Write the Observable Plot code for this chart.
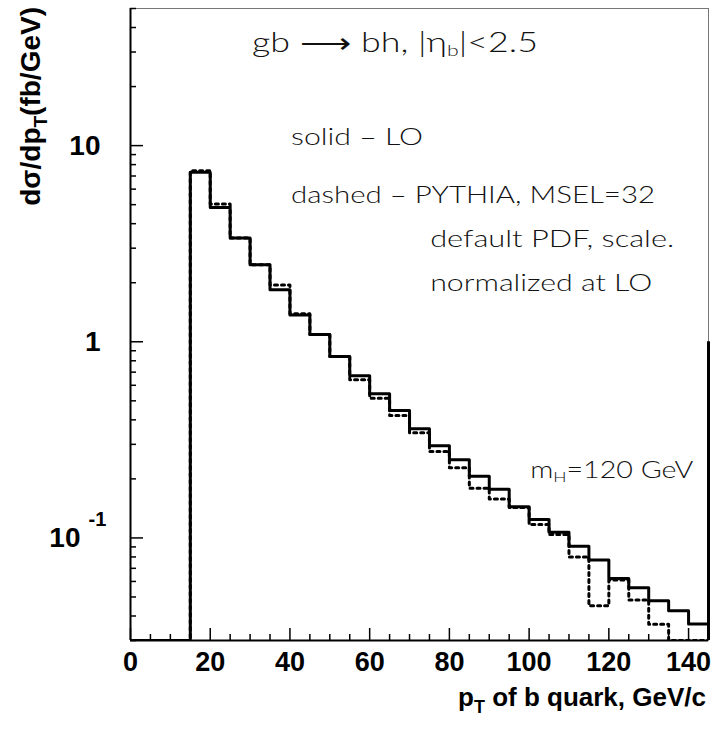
<!DOCTYPE html>
<html>
<head>
<meta charset="utf-8">
<script src="https://cdn.jsdelivr.net/npm/d3@7"></script>
<script src="https://cdn.jsdelivr.net/npm/@observablehq/plot@0.6"></script>
<style>
  body { margin: 0; background: #fff; }
</style>
</head>
<body>
<div id="chart"></div>
<script>
// ---- data ----
const binStart = [0,5,10,15,20,25,30,35,40,45,50,55,60,65,70,75,80,85,90,95,100,105,110,115,120,125,130,135,140];
const histEnd = 145;
// solid – LO
const lo = [0.03,0.03,0.03,7.31,4.84,3.38,2.47,1.84,1.37,1.09,0.841,0.671,0.543,0.446,0.36,0.295,0.25,0.206,0.177,0.144,0.124,0.107,0.0908,0.0772,0.0622,0.0558,0.0479,0.0426,0.0364];
// dashed – PYTHIA
const pythia = [0.03,0.03,0.03,7.45,5.04,3.38,2.47,1.95,1.39,1.09,0.841,0.64,0.516,0.421,0.344,0.276,0.228,0.179,0.158,0.143,0.117,0.104,0.080,0.0451,0.061,0.0483,0.0363,0.03,0.03];
// edge line drawn at the end of the histogram
const edgeLine = [{x: 145, y1: 0.03, y2: 1}];

const xMajor = [0,20,40,60,80,100,120,140];
const xMinor = [5,10,15,25,30,35,45,50,55,65,70,75,85,90,95,105,110,115,125,130,135,145];
const yMajor = [0.1,1,10];
const yMinor = [0.03,0.04,0.05,0.06,0.07,0.08,0.09,0.2,0.3,0.4,0.5,0.6,0.7,0.8,0.9,2,3,4,5,6,7,8,9,20,30,40,50];
const yTickText = [{v: 10, t: "10"}, {v: 1, t: "1"}];
const yTickExp = [{v: 0.1, base: "10", exp: "-1"}];

const xTitle = [["p", false], ["T", true], [" of b quark, GeV/c", false]];
const yTitle = [["dσ/dp", false], ["T", true], ["(fb/GeV)", false]];

const notes = [
  {x: 30.6, y: 30,  size: 27, width: 286, parts: [["gb ⟶ bh, |η", false], ["b", true], ["|<2.5", false]]},
  {x: 40.4, y: 10,  size: 23, width: 132, parts: [["solid – LO", false]]},
  {x: 40.4, y: 5.05, size: 23, width: 364, parts: [["dashed – PYTHIA, MSEL=32", false]]},
  {x: 75.3, y: 3.02, size: 23, width: 244, parts: [["default PDF, scale.", false]]},
  {x: 75.3, y: 1.8, size: 23, width: 222, parts: [["normalized at LO", false]]},
  {x: 100.4, y: 0.2, size: 23, width: 163, parts: [["m", false], ["H", true], ["=120 GeV", false]]}
];

// ---- build step tables ----
const steps = vals => binStart.map((x, i) => ({x, y: vals[i]})).concat([{x: histEnd, y: vals[vals.length - 1]}]);
const loSteps = steps(lo);
const pySteps = steps(pythia);

const boldFont = "'Liberation Sans', Arial, Helvetica, sans-serif";
const thinFont = "'Lato Light', Lato, 'Open Sans', 'DejaVu Sans', sans-serif";

const W = 711, H = 732, mL = 130, mR = 3, mT = 8, mB = 92;
const frameW = W - mL - mR, frameH = H - mT - mB;
const xDom = [0, 145], yDom = [0.03, 50];
// tick lengths (pixels) expressed in data units so the rules go through the scales
const xTickEnd = px => yDom[0] * Math.pow(yDom[1] / yDom[0], px / frameH);
const yTickEnd = px => xDom[0] + (xDom[1] - xDom[0]) * px / frameW;
const tickColor = "#000";

const plot = Plot.plot({
  width: W,
  height: H,
  marginLeft: mL,
  marginRight: mR,
  marginTop: mT,
  marginBottom: mB,
  style: {background: "#fff", fontFamily: boldFont, overflow: "visible"},
  x: {domain: xDom, axis: null},
  y: {type: "log", domain: yDom, axis: null},
  marks: [
    Plot.frame({stroke: "#777", strokeWidth: 1}),
    // inward ticks
    Plot.ruleX(xMajor, {x: d => d, y1: yDom[0], y2: xTickEnd(12), stroke: tickColor, strokeWidth: 1.5}),
    Plot.ruleX(xMinor, {x: d => d, y1: yDom[0], y2: xTickEnd(6), stroke: tickColor, strokeWidth: 1.5}),
    Plot.ruleY(yMajor, {y: d => d, x1: xDom[0], x2: yTickEnd(13), stroke: tickColor, strokeWidth: 1.5}),
    Plot.ruleY(yMinor, {y: d => d, x1: xDom[0], x2: yTickEnd(6), stroke: tickColor, strokeWidth: 1.5}),
    // tick labels
    Plot.text(xMajor, {x: d => d, text: d => String(d), frameAnchor: "bottom", lineAnchor: "top", dy: 11, fontSize: 27, fontWeight: "bold", fill: "#000"}),
    Plot.text(yTickText, {y: "v", text: "t", frameAnchor: "left", textAnchor: "end", dx: -30, fontSize: 28, fontWeight: "bold", fill: "#000"}),
    Plot.text(yTickExp, {y: "v", text: "base", frameAnchor: "left", textAnchor: "end", dx: -50, fontSize: 28, fontWeight: "bold", fill: "#000"}),
    Plot.text(yTickExp, {y: "v", text: "exp", frameAnchor: "left", textAnchor: "start", dx: -42, dy: -18, fontSize: 20, fontWeight: "bold", fill: "#000"}),
    // axis lines
    Plot.ruleY([yDom[0]], {stroke: "#000", strokeWidth: 2}),
    Plot.ruleX([xDom[0]], {stroke: "#000", strokeWidth: 2}),
    // histograms
    Plot.line(pySteps, {x: "x", y: "y", curve: "step-after", stroke: "#000", strokeWidth: 3, strokeDasharray: "3,4", clip: true}),
    Plot.line(loSteps, {x: "x", y: "y", curve: "step-after", stroke: "#000", strokeWidth: 3, clip: true}),
    Plot.ruleX(edgeLine, {x: "x", y1: "y1", y2: "y2", stroke: "#000", strokeWidth: 3})
  ]
});

document.getElementById("chart").appendChild(plot);

// ---- titles and annotations (placed through Plot's scales) ----
const svg = d3.select(plot);
const sx = plot.scale("x"), sy = plot.scale("y");

function addRich(g, parts, subSize, subShift) {
  parts.forEach(([t, sub], i) => {
    const prevSub = i > 0 && parts[i - 1][1];
    const ts = g.append("tspan").text(t);
    if (sub) ts.attr("dy", subShift).attr("font-size", subSize);
    else if (prevSub) ts.attr("dy", -subShift);
  });
}

// x title
const xt = svg.append("text")
  .attr("x", 706).attr("y", 706)
  .attr("text-anchor", "end")
  .attr("font-family", boldFont).attr("font-weight", "bold").attr("font-size", 26)
  .attr("fill", "#000");
addRich(xt, xTitle, 18, 7);

// y title
const yt = svg.append("text")
  .attr("transform", "translate(40,7) rotate(-90)")
  .attr("text-anchor", "end")
  .attr("font-family", boldFont).attr("font-weight", "bold").attr("font-size", 28)
  .attr("fill", "#000");
addRich(yt, yTitle, 19, 7);

// annotations
notes.forEach(n => {
  const t = svg.append("text")
    .attr("x", sx.apply(n.x)).attr("y", sy.apply(n.y))
    .attr("text-anchor", "start")
    .attr("font-family", thinFont).attr("font-weight", 300).attr("font-size", n.size)
    .attr("fill", "#111")
    .attr("textLength", n.width).attr("lengthAdjust", "spacingAndGlyphs");
  addRich(t, n.parts, Math.round(n.size * 0.6), 4);
});
</script>
</body>
</html>
